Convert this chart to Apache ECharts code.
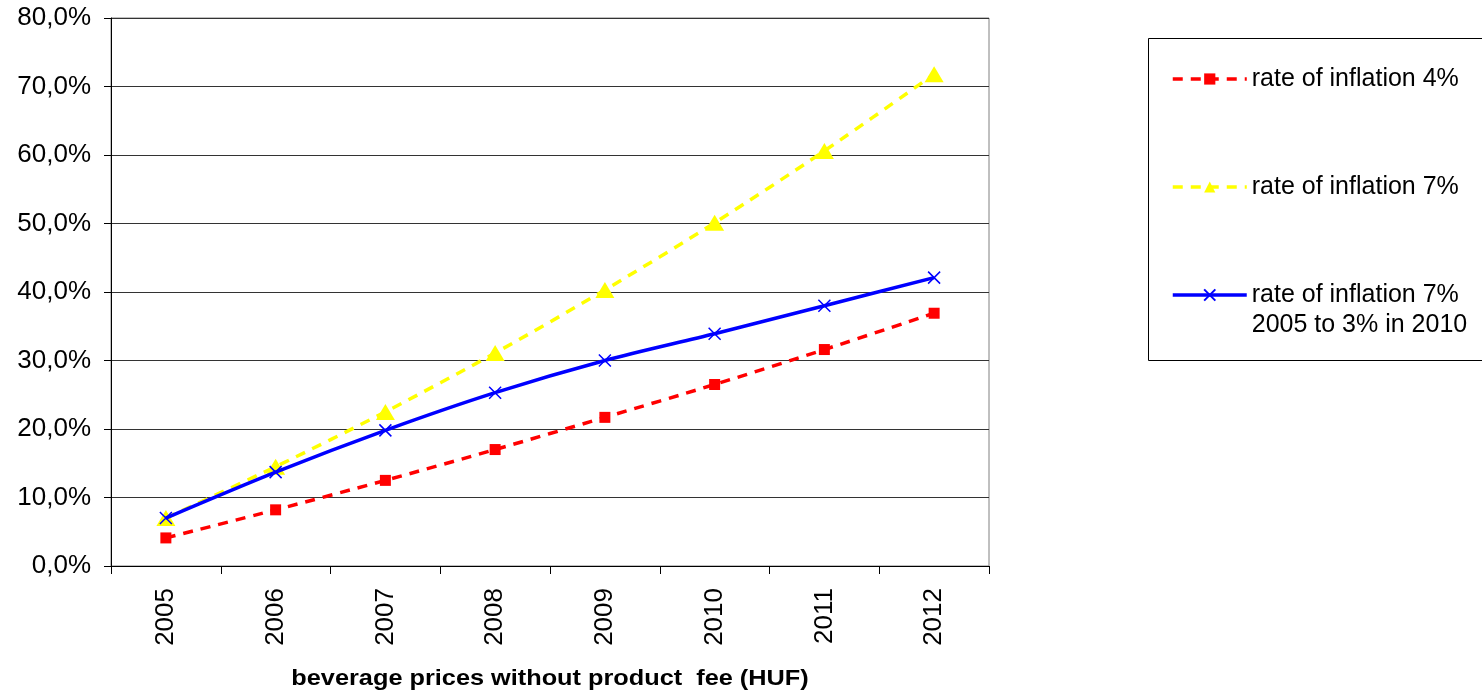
<!DOCTYPE html>
<html>
<head>
<meta charset="utf-8">
<script src="https://cdn.jsdelivr.net/npm/echarts@6/dist/echarts.min.js"></script>
<style>
  html, body { margin: 0; padding: 0; background: #fff; }
  #chart { width: 1482px; height: 694px; }
</style>
</head>
<body>
<div id="chart"></div>
<script>
// Years on the category axis
const years = ['2005', '2006', '2007', '2008', '2009', '2010', '2011', '2012'];

// Cumulative price increase, in percent
const inflation4 = [4.1, 8.2, 12.5, 17.0, 21.7, 26.5, 31.6, 36.9];
const inflation7 = [7.0, 14.5, 22.5, 31.1, 40.3, 50.1, 60.6, 71.8];
const inflation7to3 = [7.0, 13.7, 19.8, 25.3, 30.0, 33.9, 38.0, 42.1];

// Series names as shown in the legend
const seriesNames = [
  'rate of inflation 4%',
  'rate of inflation 7%',
  'rate of inflation 7%\n2005 to 3% in 2010'
];

const axisTitle = 'beverage prices without product  fee (HUF)';

const FONT = '"Liberation Sans", Arial, sans-serif';
const chart = echarts.init(document.getElementById('chart'));

const fmtPct = v => v.toFixed(1).replace('.', ',') + '%';

// Every legend entry is laid out as three lines of equal height so that the
// symbol sits level with the first line of the name and the rows stay evenly spaced.
const legendText = name => name.includes('\n') ? ' \n' + name : ' \n' + name + '\n ';

chart.setOption({
  animation: false,
  backgroundColor: '#fff',
  grid: {
    left: 111, right: 493, top: 18, bottom: 128,
    show: true, borderColor: '#808080', borderWidth: 1
  },
  xAxis: {
    type: 'category',
    data: years,
    boundaryGap: true,
    axisLine: { lineStyle: { color: '#000', width: 1 } },
    axisTick: { show: true, inside: false, length: 8, alignWithLabel: false, lineStyle: { color: '#000' } },
    axisLabel: { rotate: 90, margin: 22, color: '#000', fontSize: 26, fontFamily: FONT },
    splitLine: { show: false }
  },
  yAxis: {
    type: 'value',
    min: 0, max: 80, interval: 10,
    axisLine: { show: true, lineStyle: { color: '#000', width: 1 } },
    axisTick: { show: true, length: 7, lineStyle: { color: '#000' } },
    axisLabel: { margin: 20, color: '#000', fontSize: 26, fontFamily: FONT, formatter: fmtPct },
    splitLine: { show: true, lineStyle: { color: '#333', width: 1 } }
  },
  legend: {
    orient: 'vertical',
    left: 1171, top: 34,
    padding: 0,
    itemGap: 18,
    itemWidth: 74,
    itemHeight: 14,
    lineStyle: { width: 3.5 },
    formatter: legendText,
    textStyle: { color: '#000', fontSize: 25, fontFamily: FONT, lineHeight: 30 },
    data: seriesNames
  },
  graphic: [
    {
      type: 'rect',
      z: -1,
      shape: { x: 1148.5, y: 38.5, width: 400, height: 322 },
      style: { fill: 'none', stroke: '#000', lineWidth: 1 }
    },
    {
      type: 'text',
      x: 550, y: 679,
      scaleX: 1.15,
      style: {
        text: axisTitle,
        font: 'bold 22px ' + FONT,
        fill: '#000',
        textAlign: 'center',
        textVerticalAlign: 'middle'
      }
    }
  ],
  series: [
    {
      name: seriesNames[0],
      type: 'line',
      data: inflation4,
      smooth: 0.3,
      symbol: 'rect',
      symbolSize: 11,
      itemStyle: { color: '#ff0000' },
      lineStyle: { color: '#ff0000', width: 3.5, type: [10, 8] },
      z: 2
    },
    {
      name: seriesNames[1],
      type: 'line',
      data: inflation7,
      smooth: 0.3,
      symbol: 'triangle',
      symbolSize: [19, 16],
      itemStyle: { color: '#ffff00' },
      lineStyle: { color: '#ffff00', width: 3.5, type: [10, 8] },
      z: 3
    },
    {
      name: seriesNames[2],
      type: 'line',
      data: inflation7to3,
      smooth: 0.3,
      symbol: 'path://M0,0L10,10M10,0L0,10',
      symbolSize: 12,
      itemStyle: { color: 'rgba(0,0,0,0)', borderColor: '#0000ff', borderWidth: 1.5 },
      lineStyle: { color: '#0000ff', width: 3.5 },
      z: 4
    }
  ]
});
</script>
</body>
</html>
